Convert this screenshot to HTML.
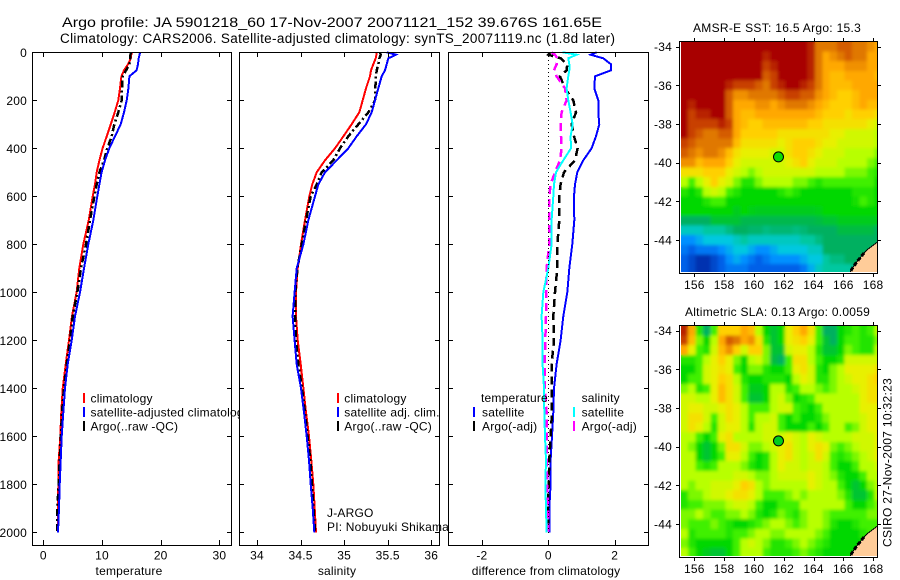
<!DOCTYPE html>
<html>
<head>
<meta charset="utf-8">
<title>Argo profile</title>
<style>
html,body{margin:0;padding:0;background:#fff;}
svg{display:block;}
text{font-family:"Liberation Sans",sans-serif;font-size:12px;fill:#000;letter-spacing:0.2px;}
.ttl{font-size:14px;letter-spacing:0;}
.ttl2{font-size:13.5px;letter-spacing:0;}
</style>
</head>
<body>
<svg id="chart" xmlns="http://www.w3.org/2000/svg" width="900" height="580" viewBox="0 0 900 580">
<defs>
<filter id="soft" x="-5%" y="-5%" width="110%" height="110%"><feGaussianBlur stdDeviation="1.6"/></filter>
</defs>
<rect x="0" y="0" width="900" height="580" fill="#fff"/>
<text class="ttl" x="62" y="27" textLength="540" lengthAdjust="spacingAndGlyphs">Argo profile: JA 5901218_60 17-Nov-2007 20071121_152 39.676S 161.65E</text>
<text class="ttl2" x="60" y="43" textLength="555" lengthAdjust="spacing">Climatology: CARS2006. Satellite-adjusted climatology: synTS_20071119.nc (1.8d later)</text>
<g id="layer"></g>
<text x="693" y="32" textLength="168" lengthAdjust="spacing">AMSR-E SST: 16.5 Argo: 15.3</text>
<text x="685" y="316" textLength="185" lengthAdjust="spacing">Altimetric SLA: 0.13 Argo: 0.0059</text>
<text transform="translate(891.5,547) rotate(-90)" textLength="169" lengthAdjust="spacing">CSIRO 27-Nov-2007 10:32:23</text>
</svg>
<script>
const depths = [0,10,25,50,75,100,150,200,250,300,350,400,450,500,550,600,700,800,900,1000,1100,1200,1300,1400,1500,1600,1700,1800,1900,2000];
const depthTicks = [0,200,400,600,800,1000,1200,1400,1600,1800,2000];

const tempTicks = [0,10,20,30];
const tempClim = [15.11,15.0,14.9,14.43,13.75,13.3,13.07,12.78,12.16,11.48,10.8,10.11,9.55,9.09,8.8,8.41,7.73,6.82,6.14,5.68,4.89,4.38,3.81,3.3,3.07,2.9,2.62,2.56,2.5,2.5];
const tempSat = [16.47,16.4,16.25,16.13,15.9,14.66,14.49,14.2,13.75,13.18,12.21,11.25,10.51,9.94,9.55,9.2,8.52,7.67,6.93,6.25,5.4,4.83,4.15,3.7,3.41,3.13,2.96,2.79,2.67,2.5];
const tempArgo = [14.9,14.85,14.8,14.66,14.1,13.52,13.4,13.35,12.78,12.1,11.65,10.91,10.34,9.55,9.09,8.7,7.96,7.27,6.42,5.8,5,4.55,3.98,3.53,3.19,3.0,2.79,2.62,2.39,2.39];

const salTicks = [34,34.5,35,35.5,36];
const salClim = [35.373,35.37,35.362,35.335,35.308,35.297,35.251,35.213,35.174,35.086,34.991,34.895,34.78,34.685,34.635,34.6,34.551,34.505,34.467,34.447,34.447,34.467,34.501,34.532,34.562,34.597,34.623,34.646,34.662,34.677];
const salSat = [35.488,35.595,35.507,35.488,35.469,35.431,35.392,35.354,35.316,35.251,35.144,35.048,34.914,34.78,34.704,34.665,34.589,34.532,34.455,34.432,34.409,34.432,34.455,34.505,34.539,34.57,34.597,34.616,34.639,34.658];
const salArgo = [35.411,35.419,35.404,35.392,35.373,35.365,35.358,35.354,35.278,35.163,35.048,34.952,34.876,34.742,34.685,34.616,34.562,34.513,34.463,34.44,34.436,34.447,34.474,34.516,34.551,34.581,34.612,34.631,34.65,34.665];

const diffTicks = [-2,0,2];
const diffTempSat = [1.456,1.275,1.657,1.888,1.888,1.406,1.386,1.506,1.506,1.536,1.436,1.305,1.054,0.873,0.803,0.773,0.783,0.723,0.633,0.572,0.452,0.371,0.251,0.171,0.151,0.11,0.07,0.07,0.03,0.03];
const diffTempArgo = [0.05,0,0.371,0.572,0.552,0.351,0.502,0.753,0.833,0.703,0.773,0.884,0.803,0.472,0.371,0.331,0.331,0.271,0.271,0.201,0.151,0.171,0.1,0.1,0.11,0.07,0.03,0.01,-0.01,0];
const diffSalSat = [0.432,0.853,0.602,0.633,0.633,0.602,0.552,0.602,0.673,0.733,0.673,0.683,0.452,0.231,0.171,0.151,0.1,0.1,0,-0.151,-0.201,-0.171,-0.171,-0.131,-0.12,-0.1,-0.07,-0.09,-0.07,-0.05];
const diffSalArgo = [0.1,0.201,0.271,0.251,0.171,0.251,0.502,0.552,0.402,0.371,0.382,0.402,0.351,0.201,0.07,0.03,0.03,0.03,-0.05,-0.07,-0.07,-0.09,-0.11,-0.1,-0.05,-0.05,-0.05,-0.03,-0.01,-0.01];

const lonTicks = [156,158,160,162,164,166,168];
const latTicks = [-34,-36,-38,-40,-42,-44];
const argoLon = 161.65;
const argoLat = -39.676;
const argoSstLevel = 6.2;
const argoSlaLevel = 5.7;
const coastLon = [168.31,167.93,167.66,167.39,167.12,166.85,166.58,166.45];
const coastLat = [-44.1,-44.31,-44.47,-44.67,-44.93,-45.19,-45.5,-45.7];

const sstGrid = [
[14,14,14,14,14,14,14,14,14,14,14,14,14,14,14,14,14,13.5,12,12,12,12.5,12.5,12,12,11.5,11],
[14,14,14,14,14,14,14,14,14,14,14,13.5,14,14,14,14,14,13.5,12,11,11.5,12,12.5,12,12,11,11],
[14,14,14,14,14,14,14,14,14,14,14,13,13.5,14,14,14,14,13.5,12,11,11,11,11.5,11.5,11.5,11,11],
[14,14,14,14,14,14,14,14,14,14,14,12.5,13,14,14,14,14,13.5,12,11,10.5,10.5,11,11,11,11,10.5],
[14,14,14,14,14,14,13.5,13,13,13,12.5,12,13,13.5,14,14,13.5,13,12,11,10.5,10.5,10.5,11,11,11,11],
[14,14,14,14,14,14,12.5,11.5,11.5,12,12,12,12,12.5,13,13,12.5,12.5,11.5,11,10.5,10,10,10.5,11,11,11],
[14,13.5,14,14,14,14,12.5,11,11,11,11.5,11.5,11,11.5,12,12,12,11.5,11,10.5,10,10,10,10.5,11,10.5,10.5],
[14,13,13.5,13.5,14,14,12.5,11,10.5,10.5,11,11,11,11,11,11,11,11,10.5,10,10,10,9.5,10,10,10,9.5],
[14,13,13,13,13,13.5,13,11,10.5,10,10,10.5,10.5,10.5,10.5,10.5,10.5,10,10,9.5,9.5,9.5,9.5,9.5,9.5,9,8.5],
[14,13,12.5,12,12,12.5,12.5,11,10,10,10,10,10,9.5,9.5,9.5,9.5,9.5,9.5,9.5,9,9,8.5,8.5,8.5,8.5,8],
[13,12.5,12,12,12,12,12,10.5,9.5,9.5,9.5,9.5,9.5,9,9.5,10,10,10,9.5,9,9,8.5,8.5,8.5,8.5,8.5,8],
[12.5,12,11.5,12,12,11.5,10.5,9.5,9,9,9,9,8.5,8.5,9.5,10,10,9.5,9,8.5,8.5,8.5,8,8,8,8,7.5],
[11.5,11.5,10.5,11,11,11,10,9,8.5,8.5,8.5,8.5,8.5,8.5,9,9.5,10,9,8.5,8.5,8.5,8,8,8,8,7.5,7],
[9.5,9.5,9.5,10,10,10,9,8.5,8,7.5,8,8.5,8.5,8.5,8.5,8.5,8.5,8.5,8,8,8,8,7.5,7.5,7.5,7,6.5],
[8,7,8,9,10,9,8.5,7.5,6.5,6.5,7.5,8,8,8,8,7.5,7.5,7,6.5,7,7,7,7,7,7,7,6],
[6.5,6,6.5,8,8.5,8,7,6.5,6,6,6,6,6,6.5,7,6.5,6,6,6,6,6,6,6,6.5,6.5,6.5,6],
[6,6,6,6.5,7,7,6,6,6,6,6,6,6,6,6,6,6,6,6,6,6,6,6,6.3,7,6.5,6],
[6,6,6,6,6,6,6,5.7,6,5.8,5.7,5.7,5.7,5.7,5.7,5.7,5.7,5.7,5.8,6,6,6,6,6,6,6,6],
[5,5,5,5,5.5,5.5,5.5,5.5,5.2,5.2,5.2,5.2,5.2,5.2,5.2,5.2,5.2,5.2,5.3,5.5,5.5,5.7,5.7,5.7,5.7,5.7,5.7],
[3.5,3.5,3.5,4,4,4,4.5,5,5,4.8,4.8,4.5,4.7,4.7,4.7,4.5,4.7,5,5,5,5,5.3,5.3,5.3,5.3,5.3,5],
[2,2,2.5,3,3,3,3,3.5,4,3.5,3.5,3.5,3.5,3.5,3.5,3.5,4,4,4.5,5,5,5,5,5,5,5,5],
[1.5,1,1.5,1.5,1.5,2,2.5,3,3,2.5,2,2,2.5,3,3,3,3,3.5,3.5,5,5,5,5,5,5,5,5],
[1,0.5,0,0,0.5,1,2,2.5,2,1.5,1,1.5,2,2,2,2,2.5,3,3,4,4.5,4.5,5,5,5,5,5],
[1,0.5,0,0,0.5,1,1.5,1.5,1.5,1,1,1,1,1,1,1,1.5,2.5,3.5,4,4,4,4,4.5,5,5,5]
];

const slaGrid = [
[13.5,11,6.5,5,7,10,10,10,11,10.5,8,6,5.5,6,9,10,11,9.5,7,5,5,6,6.5,7,6.5,7,8],
[13,10.5,7.5,6,8,11,12.5,12,11,11.5,9.5,6.5,5.5,6,9,9.5,10,9,7,5.5,5,6,7,7,6.5,6.5,7.5],
[11,9,7,6.5,8.5,10.5,11.5,10,8.5,10,10,7.5,5.5,5.5,8.5,9,9,8,6.5,5.5,5.5,6,7.5,7,6.5,6.5,8],
[6.5,6.5,7,8,9,10,9,7.5,6,8,8.5,7.5,5.3,5,7,9.5,9.5,8,7,6,6,6.5,8.5,8.5,8.5,8.5,8.5],
[6,6,7,8.5,9,9.5,9,7,6,7.5,7.5,6.5,6,6,7,9,9.5,8.5,6.5,6,7.5,8,9,9,9,9,9.5],
[6,7,7,8.5,9,10,9.5,8,6.5,6,6,6.5,6.5,6.5,6,8,9,8.5,6.5,6.5,7.5,8,8.5,9,9,9.5,10],
[7.5,8,6.5,7,9,10.5,9.5,8.5,7,5.7,5.7,6,8,8,6.5,7,8,8,7.5,7,7.5,8,8,8.5,9,9.5,9.5],
[8.5,8.5,8,8,9,10.5,9.5,8.5,7,5.5,5.5,6,8,8.5,7.5,6,6.5,7,8,8,8,8,8,8,9,9.5,9.5],
[8.5,9,9,8.5,8.5,9,9.5,9,8,7,7,7,8,8.5,8.5,7,6.5,6,7,8,8,8,8,8,9,9,9],
[8.5,9.5,9.5,8.5,7,8.5,9.5,9,8,7,8,8,8.5,7,6,7,6,6,6.5,7.5,8,8,8,8,8.5,9,9],
[8.5,9.5,9,8,6.5,8.5,9,9,8,6.5,8,8.5,8.5,7,6,6,6,7,6,7,8,8,7,7.5,8.5,9,9],
[8,8,7,6,7,9,9.5,8,8,8,8,8.5,8.5,8.5,9,8.5,8,9,8.5,8,8,8,8,8.5,8.5,8.5,9],
[8,7.5,6,5.5,6,7.5,9.5,9.5,8.5,7.5,7.5,8,8.5,9,9.5,8.5,8,9,9.5,9,7.5,7,7.5,8,8.5,8.5,9],
[8,8,6,5.5,6,7,9,9,8,7,6,6.5,8,9,9.5,8.5,8,8.5,9.5,8.5,7,6.5,7,7.5,8,8.5,9],
[8,8,7,6.5,7,8,8,8,7.5,6.5,6,6.5,8,9,8.5,8.5,8,8.5,8.5,8,7,6,6,7,8,8,8.5],
[8,8,8,8,8,8,8,8.5,8.5,8,7.5,7.5,8,8.5,8.5,8.5,8.5,9,8.5,8,7.5,6.5,6,6,7,8,8],
[8,7.5,8,8,8.5,8.5,8.5,9,10,9.5,8,7.5,8,8,8,8,8,9,8.5,8,8,7,6,5.5,6,7.5,8],
[6.5,7.5,7.5,8,8.5,8.5,9,9.5,9.5,9,8,7,7,7,7.5,8,7.5,8,8,8,8,7.5,6.5,5.5,5.5,6.5,8],
[6.5,7,7,7.5,7.5,7.5,8,8.5,8.5,8,7,6,6,7,7,7,8,8,8,8,8,8,7,6,6,7,7.5],
[7.5,7.5,8,7.5,7,7,7.5,7.5,8,7.5,6.5,6,6.5,7.5,7,6.5,7.5,8,8,7.5,7,7,7,7,7,7.5,7.5],
[7.5,7,7,7,7.5,7,6.5,6,6,6.5,7,7.5,8,8,7.5,7,7.5,8,8,7.5,6.5,6,6,6.5,7,7,7],
[8,6.5,7,7,7,7,6.5,7,7,7.5,8,8,7.5,7.5,8,8,8,8,7.5,7,6,6,6,6,6.5,7,7],
[7.5,6.5,6,6,6,6,6,7,8,8.5,8,7.5,6.5,6.5,7,7.5,8,7.5,7,6.5,6,6,6,6,6,6.5,7],
[8,7,6,5.7,5.5,5.5,6,7,8,8,8,7,6.5,6.5,6.5,7,7.5,7,6.5,6,6,6,6,6,6,6.5,7]
];

const NS = 'http://www.w3.org/2000/svg';
const layer = document.getElementById('layer');

function mk(parent, tag, attrs, text) {
  const el = document.createElementNS(NS, tag);
  for (const k in attrs) el.setAttribute(k, attrs[k]);
  if (text !== undefined) el.textContent = text;
  parent.appendChild(el);
  return el;
}

function depthY(d) { return 52.3 + 0.24 * d; }

function drawLine(g, xFn, values, color, width, dash, name) {
  const pts = values.map(function (v, i) { return xFn(v).toFixed(1) + ',' + depthY(depths[i]).toFixed(1); }).join(' ');
  const attrs = {points: pts, fill: 'none', stroke: color, 'stroke-width': width, 'shape-rendering': 'crispEdges'};
  if (dash) attrs['stroke-dasharray'] = dash;
  const el = mk(g, 'polyline', attrs);
  
  
  return el;
}

function drawPanel(name, left, right, xFn, xTicks, xLabel, labelX, showDepthLabels) {
  const g = mk(layer, 'g', {});
  
  
  const bg = mk(g, 'rect', {x: left, y: 52, width: right - left, height: 493, fill: '#fff'});
  
  
  return {g: g, finish: function () {
    const frame = mk(g, 'rect', {x: left + 0.5, y: 52.5, width: right - left, height: 493, fill: 'none', stroke: '#000', 'stroke-width': 1, 'shape-rendering': 'crispEdges'});
    
    
    depthTicks.forEach(function (d) {
      const y = Math.round(depthY(d)) + 0.5;
      const t1 = mk(g, 'path', {d: 'M' + left + ' ' + y + 'h5M' + (right + 1) + ' ' + y + 'h-5', stroke: '#000', 'stroke-width': 1, 'shape-rendering': 'crispEdges'});
      
      
      if (showDepthLabels) {
        const lab = mk(g, 'text', {x: 27, y: depthY(d) + 4.5, 'text-anchor': 'end'}, String(d));
        
        
      }
    });
    xTicks.forEach(function (v) {
      const x = Math.round(xFn(v)) + 0.5;
      const t2 = mk(g, 'path', {d: 'M' + x + ' 52v5M' + x + ' 545v-5', stroke: '#000', 'stroke-width': 1, 'shape-rendering': 'crispEdges'});
      
      
      const lab2 = mk(g, 'text', {x: xFn(v), y: 559.5, 'text-anchor': 'middle'}, String(v));
      
      
    });
    const ax = mk(g, 'text', {x: labelX, y: 575, 'text-anchor': 'middle'}, xLabel);
    
    
  }};
}

function legendRow(g, sx, tx, y, color, label) {
  if (color) {
    const sw = mk(g, 'rect', {x: sx, y: y - 9, width: 2, height: 10, fill: color, 'shape-rendering': 'crispEdges'});
    
    
  }
  const t = mk(g, 'text', {x: tx, y: y + 0.5}, label);
  
  
}

const tempX = function (v) { return 43.3 + 5.87 * v; };
const salX = function (v) { return 257 + 87.15 * (v - 34); };
const diffX = function (v) { return 548.3 + 33.2 * v; };
const DASH = '7 3 2 3';

/* temperature panel */
const p1 = drawPanel('temperature', 32, 231, tempX, tempTicks, 'temperature', 129, true);
drawLine(p1.g, tempX, tempClim, '#ff0000', 2, null, 'temperature-climatology-line');
drawLine(p1.g, tempX, tempArgo, '#000000', 2.5, DASH, 'temperature-argo-line');
drawLine(p1.g, tempX, tempSat, '#0000ff', 2, null, 'temperature-satellite-adjusted-line');
p1.finish();
legendRow(p1.g, 83, 90.5, 402, '#ff0000', 'climatology');
legendRow(p1.g, 83, 90.5, 416, '#0000ff', 'satellite-adjusted climatology');
legendRow(p1.g, 83, 90.5, 430, '#000000', 'Argo(..raw -QC)');

/* salinity panel */
const p2 = drawPanel('salinity', 239, 439, salX, salTicks, 'salinity', 337, false);
drawLine(p2.g, salX, salClim, '#ff0000', 2, null, 'salinity-climatology-line');
drawLine(p2.g, salX, salArgo, '#000000', 2.5, DASH, 'salinity-argo-line');
drawLine(p2.g, salX, salSat, '#0000ff', 2, null, 'salinity-satellite-adjusted-line');
p2.finish();
legendRow(p2.g, 337, 344.3, 402, '#ff0000', 'climatology');
legendRow(p2.g, 337, 344.3, 416, '#0000ff', 'satellite adj. clim.');
legendRow(p2.g, 337, 344.3, 430, '#000000', 'Argo(..raw -QC)');
legendRow(p2.g, 0, 327, 516.5, null, 'J-ARGO');
legendRow(p2.g, 0, 327, 530.5, null, 'PI: Nobuyuki Shikama');

/* difference panel */
const p3 = drawPanel('difference', 448, 648, diffX, diffTicks, 'difference from climatology', 546, false);
drawLine(p3.g, diffX, diffTempSat, '#0000ff', 2, null, 'difference-temperature-satellite-line');
drawLine(p3.g, diffX, diffTempArgo, '#000000', 2.5, '8 5', 'difference-temperature-argo-line');
drawLine(p3.g, diffX, diffSalArgo, '#ff00ff', 2.5, '8 5', 'difference-salinity-argo-line');
drawLine(p3.g, diffX, diffSalSat, '#00ffff', 2, null, 'difference-salinity-satellite-line');
const zero = mk(p3.g, 'line', {x1: 548.5, x2: 548.5, y1: 52, y2: 533, stroke: '#000', 'stroke-width': 1, 'stroke-dasharray': '1 3', 'shape-rendering': 'crispEdges'});


p3.finish();
legendRow(p3.g, 0, 481, 401.5, null, 'temperature');
legendRow(p3.g, 473, 482, 416, '#0000ff', 'satellite');
legendRow(p3.g, 473, 482, 430, '#000000', 'Argo(-adj)');
legendRow(p3.g, 0, 581.6, 401.5, null, 'salinity');
legendRow(p3.g, 573, 581.6, 416, '#00ffff', 'satellite');
legendRow(p3.g, 573, 581.6, 430, '#ff00ff', 'Argo(-adj)');

/* colour scale for the maps */
function levelColor(v) {
  const stops = ['#0030b0','#0060e8','#0090ff','#00c8e0','#00c8a0','#00b060','#00d800','#40f000','#b8ff00','#e8f000','#ffd000','#ffa800','#e07800','#c84000','#a80000'];
  const i = Math.max(0, Math.min(stops.length - 2, Math.floor(v)));
  const f = Math.max(0, Math.min(1, v - i));
  const a = parseInt(stops[i].slice(1), 16), b = parseInt(stops[i + 1].slice(1), 16);
  const mix = function (s) { return Math.round(((a >> s) & 255) * (1 - f) + ((b >> s) & 255) * f); };
  return 'rgb(' + mix(16) + ',' + mix(8) + ',' + mix(0) + ')';
}

function drawMap(name, top, grid, argoLevel) {
  const lonX = function (lon) { return 694.3 + (lon - 156) * 14.9; };
  const latY = function (lat) { return top + 5.7 + (-34 - lat) * 19.33; };
  const g = mk(layer, 'g', {});
  
  
  const clipId = name + '-clip';
  const cp = mk(g, 'clipPath', {id: clipId});
  mk(cp, 'rect', {x: 681, y: top + 1, width: 197, height: 230});
  const clipped = mk(g, 'g', {'clip-path': 'url(#' + clipId + ')'});
  const cellsId = name + '-cells';
  const cells = mk(clipped, 'g', {id: cellsId, 'shape-rendering': 'crispEdges'});
  grid.forEach(function (row, r) {
    row.forEach(function (v, c) {
      const x0 = lonX(155.09 + c * 0.5), y0 = latY(-33.75 - r * 0.5);
      const x1 = lonX(155.09 + (c + 1) * 0.5), y1 = latY(-33.75 - (r + 1) * 0.5);
      const cell = mk(cells, 'rect', {x: x0.toFixed(2), y: y0.toFixed(2), width: (x1 - x0 + 0.5).toFixed(2), height: (y1 - y0 + 0.5).toFixed(2), fill: levelColor(v)});
      
      
    });
  });
  const softened = mk(clipped, 'use', {href: '#' + cellsId, filter: 'url(#soft)'});
  
  
  let landPts = coastLon.map(function (lon, i) { return lonX(lon).toFixed(1) + ',' + latY(coastLat[i]).toFixed(1); });
  const land = mk(clipped, 'polygon', {points: landPts.join(' ') + ' ' + lonX(168.4).toFixed(1) + ',' + latY(-45.8).toFixed(1) + ' ' + lonX(168.4).toFixed(1) + ',' + latY(-44).toFixed(1), fill: '#ffcc99', 'shape-rendering': 'crispEdges'});
  
  
  const coastA = mk(clipped, 'polyline', {points: landPts.join(' '), fill: 'none', stroke: '#000', 'stroke-width': 1, 'shape-rendering': 'crispEdges'});
  
  
  const coastB = mk(clipped, 'polyline', {points: landPts.slice(3).join(' '), fill: 'none', stroke: '#000', 'stroke-width': 3, 'stroke-dasharray': '4 2', 'shape-rendering': 'crispEdges'});
  
  
  const frame = mk(g, 'rect', {x: 679.5, y: top + 0.5, width: 198, height: 232, fill: 'none', stroke: '#000', 'stroke-width': 1, 'shape-rendering': 'crispEdges'});
  
  
  lonTicks.forEach(function (lon) {
    const x = Math.round(lonX(lon)) + 0.5;
    const t = mk(g, 'path', {d: 'M' + x + ' ' + top + 'v-3M' + x + ' ' + (top + 233) + 'v3', stroke: '#000', 'shape-rendering': 'crispEdges'});
    
    
    const lab = mk(g, 'text', {x: lonX(lon), y: top + 248, 'text-anchor': 'middle'}, String(lon));
    
    
  });
  latTicks.forEach(function (lat) {
    const y = Math.round(latY(lat)) + 0.5;
    const t = mk(g, 'path', {d: 'M679 ' + y + 'h-3M878 ' + y + 'h3', stroke: '#000', 'shape-rendering': 'crispEdges'});
    
    
    const lab = mk(g, 'text', {x: 672, y: latY(lat) + 4.5, 'text-anchor': 'end'}, String(lat));
    
    
  });
  const marker = mk(g, 'circle', {cx: lonX(argoLon), cy: latY(argoLat) + 0.5, r: 5, fill: levelColor(argoLevel), stroke: '#000', 'stroke-width': 1});
  
  
}

drawMap('sst', 41, sstGrid, argoSstLevel);
drawMap('sla', 325, slaGrid, argoSlaLevel);
</script>
</body>
</html>
